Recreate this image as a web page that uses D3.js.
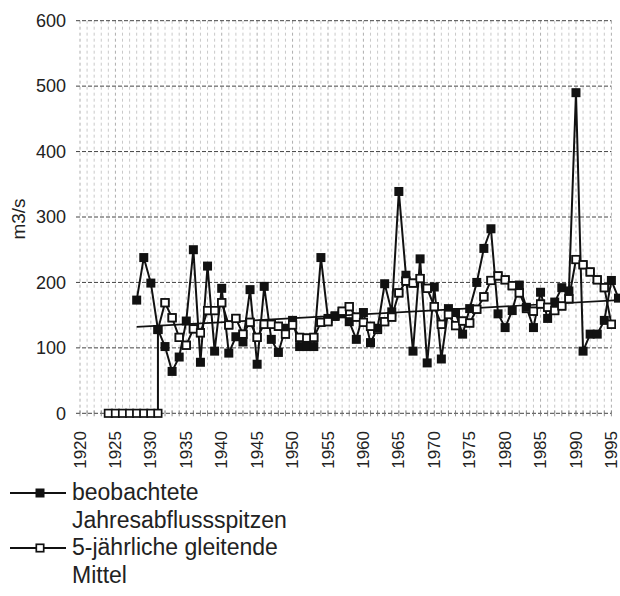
<!DOCTYPE html>
<html><head><meta charset="utf-8">
<script src="https://cdn.jsdelivr.net/npm/d3@7"></script>
<style>html,body{margin:0;padding:0;background:#fff;}svg{display:block;}</style>
</head><body>
<script>
// ---- data ----
const obsYears = [1928,1929,1930,1931,1932,1933,1934,1935,1936,1937,1938,1939,1940,1941,1942,1943,1944,1945,1946,1947,1948,1949,1950,1951,1952,1953,1954,1955,1956,1957,1958,1959,1960,1961,1962,1963,1964,1965,1966,1967,1968,1969,1970,1971,1972,1973,1974,1975,1976,1977,1978,1979,1980,1981,1982,1983,1984,1985,1986,1987,1988,1989,1990,1991,1992,1993,1994,1995,1996];
const obsValues = [173,238,199,128,102,64,86,141,250,78,225,95,191,92,117,109,189,75,194,113,93,130,142,102,102,102,238,145,148,152,140,113,154,108,130,198,155,339,211,95,236,77,193,83,160,154,121,160,200,252,282,152,131,157,196,162,131,185,145,170,192,187,490,95,121,121,142,203,176];
const maYears = [1924,1925,1926,1927,1928,1929,1930,1931,1931,1932,1933,1934,1935,1936,1937,1938,1939,1940,1941,1942,1943,1944,1945,1946,1947,1948,1949,1950,1951,1952,1953,1954,1955,1956,1957,1958,1959,1960,1961,1962,1963,1964,1965,1966,1967,1968,1969,1970,1971,1972,1973,1974,1975,1976,1977,1978,1979,1980,1981,1982,1983,1984,1985,1986,1987,1988,1989,1990,1991,1992,1993,1994,1995];
const maValues = [0,0,0,0,0,0,0,0,128,169,146,116,104,129,123,157,157,169,135,145,121,139,116,136,136,133,121,135,116,115,116,139,140,149,156,163,147,139,133,128,140,147,184,202,199,206,191,163,136,151,134,141,138,159,178,203,210,204,195,184,160,156,167,162,157,164,175,235,227,216,204,192,136];
const trendYears = [1928,1996];
const trendValues = [132,173];
const xTicks = [1920,1925,1930,1935,1940,1945,1950,1955,1960,1965,1970,1975,1980,1985,1990,1995];
const yTicks = [0,100,200,300,400,500,600];
const yTitle = "m3/s";
const legendLabels = [["beobachtete","Jahresabflussspitzen"],["5-jährliche gleitende","Mittel"]];

// ---- layout ----
const W = 620, H = 596;
const svg = d3.select("body").append("svg").attr("width", W).attr("height", H)
  .style("font-family", "'Liberation Sans', Arial, Helvetica, sans-serif");

const x = d3.scaleLinear().domain([1920, 1995]).range([80, 611.4]);
const y = d3.scaleLinear().domain([0, 600]).range([413.3, 20.7]);

// vertical year gridlines
const gridYears = d3.range(1920, 1996);
svg.append("g").selectAll("line").data(gridYears).join("line")
  .attr("x1", d => x(d)).attr("x2", d => x(d))
  .attr("y1", y(600)).attr("y2", y(0))
  .attr("stroke", d => d % 5 === 0 ? "#999" : "#bbb")
  .attr("stroke-width", 0.8)
  .attr("stroke-dasharray", "3,3");

// horizontal gridlines
svg.append("g").selectAll("line").data(yTicks).join("line")
  .attr("x1", x(1920) - 4).attr("x2", x(1995))
  .attr("y1", d => y(d)).attr("y2", d => y(d))
  .attr("stroke", "#444").attr("stroke-width", 1)
  .attr("stroke-dasharray", "4,2");

// year ticks on baseline
svg.append("g").selectAll("line").data(gridYears).join("line")
  .attr("x1", d => x(d)).attr("x2", d => x(d))
  .attr("y1", y(0) - 3).attr("y2", y(0) + 3)
  .attr("stroke", "#777").attr("stroke-width", 0.8);

// y tick labels
svg.append("g").selectAll("text").data(yTicks).join("text")
  .attr("x", 66).attr("y", d => y(d)).attr("dy", "0.35em")
  .attr("text-anchor", "end").attr("font-size", 18).attr("fill", "#222")
  .text(d => d);

// x tick labels (rotated)
svg.append("g").selectAll("text").data(xTicks).join("text")
  .attr("transform", d => `translate(${x(d)},431) rotate(-90)`)
  .attr("dy", "0.33em").attr("text-anchor", "end")
  .attr("font-size", 17).attr("fill", "#222")
  .text(d => d);

// y title
svg.append("text").attr("transform", "translate(18,219) rotate(-90)")
  .attr("text-anchor", "middle").attr("dy", "0.35em")
  .attr("font-size", 19).attr("fill", "#222").text(yTitle);

// trend line
const line = d3.line().x(d => x(d[0])).y(d => y(d[1]));
svg.append("path").datum(d3.zip(trendYears, trendValues))
  .attr("d", line).attr("fill", "none").attr("stroke", "#111").attr("stroke-width", 1.7);

// moving average series line
const ma = d3.zip(maYears, maValues);
svg.append("path").datum(ma).attr("d", line)
  .attr("fill", "none").attr("stroke", "#111").attr("stroke-width", 2);

// observed series
const obs = d3.zip(obsYears, obsValues);
svg.append("path").datum(obs).attr("d", line)
  .attr("fill", "none").attr("stroke", "#111").attr("stroke-width", 2);

const ms = 9, mo = 7.4;
// open markers
svg.append("g").selectAll("rect").data(ma).join("rect")
  .attr("x", d => x(d[0]) - mo/2).attr("y", d => y(d[1]) - mo/2)
  .attr("width", mo).attr("height", mo)
  .attr("fill", "#fff").attr("stroke", "#111").attr("stroke-width", 1.7);
// filled markers
svg.append("g").selectAll("rect").data(obs).join("rect")
  .attr("x", d => x(d[0]) - ms/2).attr("y", d => y(d[1]) - ms/2)
  .attr("width", ms).attr("height", ms).attr("fill", "#111");
// redraw open markers that are not hidden by coincident filled marker
svg.append("g").selectAll("rect").data(ma.filter(d => d[1] > 0 && !obs.some(o => o[0] === d[0] && Math.abs(o[1] - d[1]) < 3))).join("rect")
  .attr("x", d => x(d[0]) - mo/2).attr("y", d => y(d[1]) - mo/2)
  .attr("width", mo).attr("height", mo)
  .attr("fill", "#fff").attr("stroke", "#111").attr("stroke-width", 1.7);

// legend
const lg = svg.append("g");
const legY = [493, 548];
legendLabels.forEach((lab, i) => {
  const yy = legY[i];
  lg.append("line").attr("x1", 10).attr("x2", 66).attr("y1", yy).attr("y2", yy)
    .attr("stroke", "#111").attr("stroke-width", 2);
  if (i === 0) {
    lg.append("rect").attr("x", 40 - ms/2).attr("y", yy - ms/2).attr("width", ms).attr("height", ms).attr("fill", "#111");
  } else {
    lg.append("rect").attr("x", 40 - mo/2).attr("y", yy - mo/2)
      .attr("width", mo).attr("height", mo)
      .attr("fill", "#fff").attr("stroke", "#111").attr("stroke-width", 1.7);
  }
  lab.forEach((t, j) => {
    lg.append("text").attr("x", 72).attr("y", yy + 7 + j*28)
      .attr("font-size", 23).attr("fill", "#222").text(t);
  });
});
</script>
</body></html>
